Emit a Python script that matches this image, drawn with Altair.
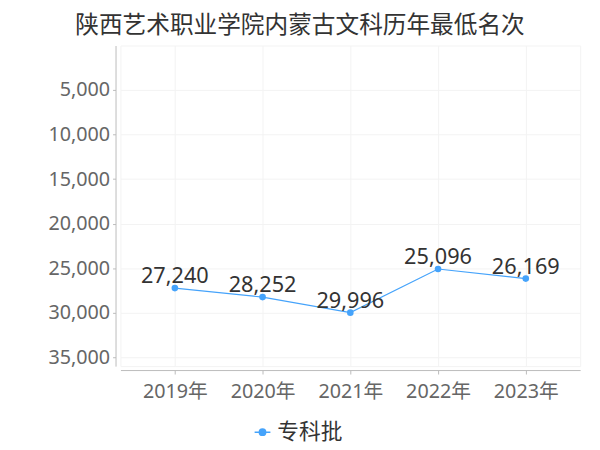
import altair as alt
import pandas as pd

years = ["2019年", "2020年", "2021年", "2022年", "2023年"]
ranks = [27240, 28252, 29996, 25096, 26169]
series = ["专科批"] * 5
y_ticks = [5000, 10000, 15000, 20000, 25000, 30000, 35000]

df = pd.DataFrame({"year": years, "rank": ranks, "batch": series})

FONT = '"Noto Sans", "Noto Sans CJK SC", sans-serif'
BLUE = "#45a3fb"

x = alt.X("year:N", sort=years, title=None,
          scale=alt.Scale(type="point", padding=0.62),
          axis=alt.Axis(labelAngle=0, labelFontSize=20, labelColor="#666", labelFont=FONT,
                        domainColor="#bbb", tickColor="#bbb", tickSize=4, offset=4,
                        labelPadding=8, grid=True, gridColor="#f3f3f3"))
y = alt.Y("rank:Q", title=None,
          scale=alt.Scale(domain=[0, 36000], reverse=True, nice=False, zero=False),
          axis=alt.Axis(values=y_ticks, format=",.0f", labelFontSize=20, labelColor="#666",
                        labelFont=FONT, domainColor="#bbb", tickColor="#bbb", tickSize=3,
                        offset=5, labelPadding=3, grid=True, gridColor="#f3f3f3"))

color = alt.Color("batch:N", scale=alt.Scale(range=[BLUE]),
                  legend=alt.Legend(title=None, orient="none", legendX=133, legendY=381,
                                    labelFontSize=22, labelColor="#333", labelFont=FONT,
                                    symbolType="M-1,0L-0.4,0M0.4,0L1,0M0.4,0A0.4,0.4,0,1,1,-0.4,0A0.4,0.4,0,1,1,0.4,0Z",
                                    symbolSize=256, symbolStrokeWidth=1.5,
                                    symbolFillColor=BLUE, symbolStrokeColor=BLUE,
                                    labelOffset=4))

base = alt.Chart(df)
line = base.mark_line(strokeWidth=1.2).encode(x=x, y=y, color=color)
pts = base.mark_circle(size=45, opacity=1).encode(x=x, y=y, color=alt.Color("batch:N", scale=alt.Scale(range=[BLUE]), legend=None))
labels = base.mark_text(fontSize=22, color="#333", font=FONT, baseline="alphabetic", dy=-5).encode(
    x=x, y=y, text=alt.Text("rank:Q", format=","))

chart = alt.layer(line, pts, labels).properties(
    width=466, height=325,
    title=alt.TitleParams("陕西艺术职业学院内蒙古文科历年最低名次", fontSize=24, color="#333",
                          font=FONT, fontWeight="normal", anchor="middle", dx=-51, dy=24,
                          baseline="bottom", offset=8),
    autosize="none",
    padding={"left": 114, "top": 35, "right": 12, "bottom": 82},
).configure_view(stroke="#f3f3f3")

chart.save("out.html", embed_options={"renderer": "svg", "actions": False})
